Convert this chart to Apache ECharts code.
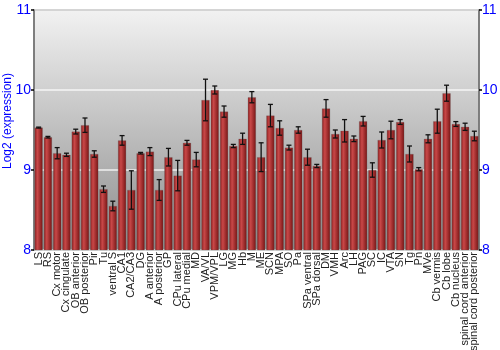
<!DOCTYPE html>
<html><head><meta charset="utf-8">
<script src="https://cdn.jsdelivr.net/npm/echarts@6/dist/echarts.min.js"></script>
<style>html,body{margin:0;padding:0;background:#fff}#c{width:500px;height:350px}</style>
</head><body><div id="c"></div>
<script>
const categories = ["LS","RS","Cx motor","Cx cingulate","OB anterior","OB posterior","Pir","Tu","ventral S","CA1","CA2/CA3","DG","A anterior","A posterior","GP","CPu lateral","CPu medial","MD","VA/VL","VPM/VPL","LG","MG","Hb","M","ME","SCN","MPA","SO","Pa","SPa ventral","SPa dorsal","DM","VMH","Arc","LH","PAG","SC","IC","VTA","SN","Tg","Pn","MVe","Cb vermis","Cb lobe","Cb nucleus","spinal cord anterior","spinal cord posterior"];
const values = [9.53,9.41,9.21,9.19,9.48,9.56,9.20,8.76,8.55,9.37,8.75,9.21,9.23,8.75,9.16,8.93,9.34,9.13,9.875,10.0,9.73,9.30,9.39,9.91,9.16,9.68,9.525,9.28,9.50,9.16,9.05,9.77,9.45,9.49,9.39,9.61,9.0,9.375,9.50,9.60,9.20,9.01,9.39,9.61,9.96,9.575,9.54,9.425];
const errors = [0.006,0.01,0.07,0.02,0.03,0.09,0.04,0.04,0.06,0.06,0.24,0.01,0.05,0.13,0.11,0.19,0.03,0.09,0.26,0.05,0.07,0.02,0.07,0.07,0.18,0.14,0.09,0.03,0.04,0.1,0.02,0.11,0.05,0.14,0.035,0.06,0.09,0.1,0.11,0.03,0.1,0.02,0.05,0.15,0.1,0.03,0.045,0.06];
const yTicks = [8,9,10,11];

const chart = echarts.init(document.getElementById('c'), null, {renderer:'canvas'});
const G = echarts.graphic.LinearGradient;
const yAxisCommon = {
  type:'value', min:8, max:11, interval:1,
  axisLine:{show:true, lineStyle:{color:'#777', width:1.5}},
  axisTick:{show:true, length:3, lineStyle:{color:'#000', width:1.5}},
  axisLabel:{color:'#0000ff', fontSize:14, fontFamily:'Liberation Sans', margin:3},
  splitLine:{show:false}
};
chart.setOption({
  animation:false,
  grid:{left:34, right:21, top:10, bottom:100, containLabel:false, outerBoundsMode:'none',
    show:true, borderColor:'#777', borderWidth:1.5,
    backgroundColor:new G(0,0,0,1,[{offset:0,color:'#f2f2f2'},{offset:1,color:'#8c8c8c'}])},
  xAxis:{type:'category', data:categories,
    axisLine:{show:false}, axisTick:{show:false},
    axisLabel:{rotate:90, interval:0, fontSize:11, color:'#222', fontFamily:'Liberation Sans', margin:2}},
  yAxis:[
    Object.assign({}, yAxisCommon, {position:'left',
      name:'Log2 (expression)', nameLocation:'middle', nameGap:20, nameRotate:90, nameMoveOverlap:false,
      nameTextStyle:{color:'#0000ff', fontSize:12, fontFamily:'Liberation Sans', padding:[0,0,0,18]},
      splitLine:{show:true, lineStyle:{color:'#ffffff', width:1.5, opacity:0.8}}}),
    Object.assign({}, yAxisCommon, {position:'right'})
  ],
  series:[
    {type:'bar', data:values, barCategoryGap:'12%',
      itemStyle:{color:new G(0,0,1,0,[{offset:0,color:'#8a1f1f'},{offset:0.35,color:'#c94848'},{offset:1,color:'#761414'}]),
        borderColor:'rgba(90,90,90,0.5)', borderWidth:0.5}},
    {type:'custom', z:5,
      data:values.map((v,i)=>[i, v-errors[i], v+errors[i]]),
      renderItem:function(params, api){
        const lo = api.coord([api.value(0), api.value(1)]);
        const hi = api.coord([api.value(0), api.value(2)]);
        const x = lo[0], w = 2.5;
        const st = {stroke:'#111', lineWidth:1.3};
        return {type:'group', children:[
          {type:'line', shape:{x1:x,y1:lo[1],x2:x,y2:hi[1]}, style:st},
          {type:'line', shape:{x1:x-w,y1:lo[1],x2:x+w,y2:lo[1]}, style:st},
          {type:'line', shape:{x1:x-w,y1:hi[1],x2:x+w,y2:hi[1]}, style:st}
        ]};
      }}
  ]
});
</script></body></html>
